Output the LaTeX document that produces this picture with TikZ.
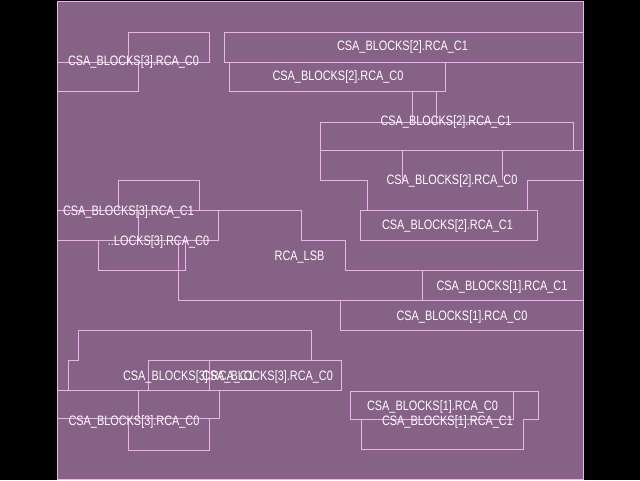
\documentclass[tikz,border=0pt]{standalone}
\usepackage{fontspec}
\usepackage{graphicx}
\setmainfont{Liberation Sans}
\usepackage{tikz}
\usetikzlibrary{positioning}
\definecolor{dieback}{RGB}{135,98,135}
\definecolor{cellpink}{RGB}{238,176,238}
\newcommand{\celltext}[1]{\scalebox{1}[1.25]{#1}}
\tikzset{
	cellline/.style={draw=cellpink, line width=1pt},
	celllabel/.style={text=white, inner sep=0pt, font=\fontsize{10.9}{12}\selectfont}
}

\begin{document}
\begin{tikzpicture}[x=1pt, y=-1pt]
			\useasboundingbox (0,0) rectangle (640,480);
			\fill[black] (0,0) rectangle (640,480);
			\fill[dieback] (57,1) rectangle (583,479);
			\draw[cellline] (57,1) rectangle (583,479);
			% top rows
			\draw[cellline] (128,62)--(128,32)--(209,32)--(209,62)--(57,62);
			\draw[cellline] (138,62)--(138,91)--(57,91);
			\draw[cellline] (224,62)--(224,32)--(583,32);
			\draw[cellline] (224,62)--(583,62);
			\draw[cellline] (229,62)--(229,91)--(445,91)--(445,62);
			\draw[cellline] (412,91)--(412,122);
			\draw[cellline] (436,91)--(436,122);
			% middle right
			\draw[cellline] (320,122)--(573,122)--(573,150);
			\draw[cellline] (320,122)--(320,180)--(367,180)--(367,210);
			\draw[cellline] (320,150)--(583,150);
			\draw[cellline] (402,150)--(402,180);
			\draw[cellline] (502,150)--(502,180);
			\draw[cellline] (527,210)--(527,180)--(583,180);
			\draw[cellline] (360,210) rectangle (537,240);
			% middle left
			\draw[cellline] (118,210)--(118,180)--(199,180)--(199,210);
			\draw[cellline] (57,210)--(301,210)--(301,240)--(345,240)--(345,270)--(583,270);
			\draw[cellline] (138,210)--(138,240);
			\draw[cellline] (218,210)--(218,240)--(57,240);
			\draw[cellline] (98,240)--(98,270)--(185,270)--(185,240);
			\draw[cellline] (178,240)--(178,300)--(583,300);
			\draw[cellline] (422,270)--(422,300);
			\draw[cellline] (340,300)--(340,330)--(583,330);
			% bottom rows
			\draw[cellline] (311,330)--(311,360)--(341,360);
			\draw[cellline] (68,390)--(68,360)--(78,360)--(78,330)--(311,330);
			\draw[cellline] (148,360) rectangle (341,390);
			\draw[cellline] (209,360)--(209,390);
			\draw[cellline] (57,390)--(219,390)--(219,418)--(128,418);
			\draw[cellline] (138,390)--(138,418)--(57,418);
			\draw[cellline] (128,418) rectangle (209,450);
			\draw[cellline] (350,419)--(350,391)--(538,391)--(538,419)--(523,419)--(523,449)--(361,449)--(361,419);
			\draw[cellline] (350,419)--(513,419)--(513,391);
			% instance names
			\node[celllabel] (b3c0top) at (133.5,62) {\celltext{CSA\_BLOCKS[3].RCA\_C0}};
			\node[celllabel] (b2c1top) at (402.5,47) {\celltext{CSA\_BLOCKS[2].RCA\_C1}};
			\node[celllabel] (b2c0top) at (338,77) {\celltext{CSA\_BLOCKS[2].RCA\_C0}};
			\node[celllabel] (b2c1mid) at (446,122) {\celltext{CSA\_BLOCKS[2].RCA\_C1}};
			\node[celllabel] (b2c0mid) at (452,181) {\celltext{CSA\_BLOCKS[2].RCA\_C0}};
			\node[celllabel] (b2c1low) at (447.5,226) {\celltext{CSA\_BLOCKS[2].RCA\_C1}};
			\node[celllabel] (b3c1mid) at (128.5,212) {\celltext{CSA\_BLOCKS[3].RCA\_C1}};
			\node[celllabel] (b3c0mid) at (158.5,242) {\celltext{..LOCKS[3].RCA\_C0}};
			\node[celllabel] (lsb) at (299.5,257) {\celltext{RCA\_LSB}};
			\node[celllabel] (b1c1top) at (502,287) {\celltext{CSA\_BLOCKS[1].RCA\_C1}};
			\node[celllabel] (b1c0top) at (462,317) {\celltext{CSA\_BLOCKS[1].RCA\_C0}};
			\node[celllabel] (b3c1low) at (188.5,377) {\celltext{CSA\_BLOCKS[3].RCA\_C1}};
			\node[celllabel] (b3c0low) at (267.5,377) {\celltext{CSA\_BLOCKS[3].RCA\_C0}};
			\node[celllabel] (b3c0bot) at (134,422) {\celltext{CSA\_BLOCKS[3].RCA\_C0}};
			\node[celllabel] (b1c0bot) at (432.5,407) {\celltext{CSA\_BLOCKS[1].RCA\_C0}};
			\node[celllabel] (b1c1bot) at (447.5,422) {\celltext{CSA\_BLOCKS[1].RCA\_C1}};
		\end{tikzpicture}
\end{document}
